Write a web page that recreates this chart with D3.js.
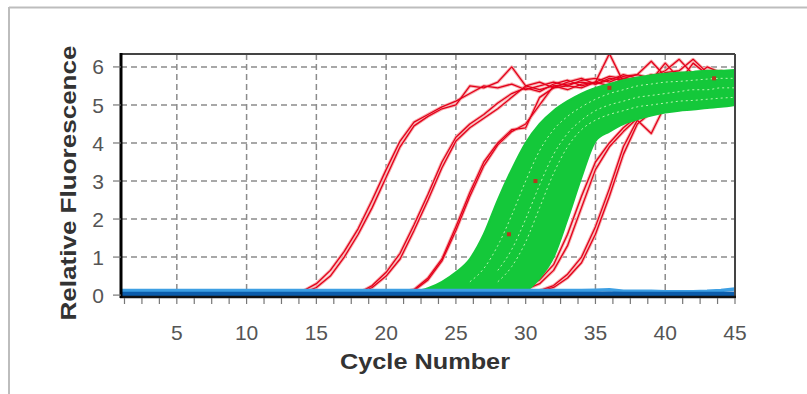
<!DOCTYPE html>
<html><head><meta charset="utf-8">
<script src="https://cdn.jsdelivr.net/npm/d3@7"></script>
<style>html,body{margin:0;padding:0;background:#fff;}svg{display:block}</style>
</head><body><svg id="c" width="807" height="394"></svg>
<script>
// ---- data ----
const cycles = [1,2,3,4,5,6,7,8,9,10,11,12,13,14,15,16,17,18,19,20,21,22,23,24,25,26,27,28,29,30,31,32,33,34,35,36,37,38,39,40,41,42,43,44,45];
const xTickLabels = [5,10,15,20,25,30,35,40,45];
const yTickLabels = [0,1,2,3,4,5,6];

const redA1 = [0,0,0,0,0,0,0,0,0,0,0,0,0,0.05,0.2,0.5,1.0,1.6,2.3,3.1,3.9,4.45,4.7,4.9,5.0,5.5,5.45,5.6,6.0,5.5,5.4,5.5,5.55,5.6,5.55,5.7,5.65,5.7,5.75,5.8,5.75,5.8,5.8,5.85,5.8];
const redA2 = [0,0,0,0,0,0,0,0,0,0,0,0,0.02,0.1,0.3,0.65,1.15,1.75,2.5,3.3,4.05,4.55,4.75,4.95,5.1,5.3,5.5,5.45,5.55,5.4,5.5,5.6,5.5,5.65,5.7,5.6,5.75,5.8,5.7,5.85,5.9,6.2,5.85,5.8,5.85];
const redB1 = [0,0,0,0,0,0,0,0,0,0,0,0,0,0,0,0,0,0.05,0.25,0.6,1.1,1.85,2.65,3.5,4.15,4.5,4.75,5.05,5.3,5.45,5.35,5.55,5.65,5.5,5.6,5.75,5.7,5.8,6.15,5.75,5.8,5.85,5.8,5.85,5.8];
const redB2 = [0,0,0,0,0,0,0,0,0,0,0,0,0,0,0,0,0,0.03,0.2,0.5,0.95,1.7,2.5,3.35,4.05,4.4,4.65,4.9,5.2,5.5,5.6,5.45,5.6,5.7,5.55,5.65,5.8,5.7,5.75,5.9,6.2,5.8,5.75,5.8,5.8];
const redC1 = [0,0,0,0,0,0,0,0,0,0,0,0,0,0,0,0,0,0,0,0,0.05,0.15,0.45,0.95,1.8,2.7,3.5,4.0,4.35,4.4,5.2,5.45,5.5,5.45,5.6,6.35,5.6,5.7,5.65,6.1,5.7,5.8,5.75,5.8,5.8];
const redC2 = [0,0,0,0,0,0,0,0,0,0,0,0,0,0,0,0,0,0,0,0,0.03,0.12,0.4,0.9,1.7,2.6,3.4,3.95,4.3,4.5,5.0,5.5,5.4,5.55,5.6,5.5,5.7,5.65,5.8,5.7,5.85,5.8,5.9,5.8,5.85];
const redD1 = [0,0,0,0,0,0,0,0,0,0,0,0,0,0,0,0,0,0,0,0,0,0,0,0,0,0,0,0.03,0.08,0.2,0.4,0.8,1.6,2.6,3.5,4.0,4.4,4.7,5.0,5.3,5.5,5.6,5.7,5.75,5.8];
const redD2 = [0,0,0,0,0,0,0,0,0,0,0,0,0,0,0,0,0,0,0,0,0,0,0,0,0,0,0,0.02,0.06,0.15,0.3,0.65,1.3,2.3,3.3,3.9,4.3,4.65,4.95,5.25,5.45,5.6,5.65,5.7,5.75];
const redE1 = [0,0,0,0,0,0,0,0,0,0,0,0,0,0,0,0,0,0,0,0,0,0,0,0,0,0,0,0,0.02,0.05,0.12,0.25,0.55,1.0,1.8,2.8,3.9,4.6,4.25,5.0,5.6,6.1,5.8,5.9,5.8];
const redE2 = [0,0,0,0,0,0,0,0,0,0,0,0,0,0,0,0,0,0,0,0,0,0,0,0,0,0,0,0,0,0.03,0.1,0.2,0.45,0.85,1.6,2.6,3.7,4.5,4.8,5.3,5.5,5.7,6.0,5.85,5.8];

// green sample cloud: earliest (upper) and latest (lower) envelope
const greenUpper = [0,0,0,0,0,0,0,0,0,0,0,0,0,0,0,0,0,0,0,0,0.02,0.08,0.18,0.35,0.6,0.95,1.6,2.5,3.3,4.0,4.5,4.85,5.1,5.3,5.45,5.55,5.65,5.72,5.78,5.82,5.85,5.87,5.9,5.9,5.92];
const greenLower = [0,0,0,0,0,0,0,0,0,0,0,0,0,0,0,0,0,0,0,0,0,0,0,0,0,0,0,0.02,0.05,0.12,0.45,1.0,2.0,3.1,4.05,4.3,4.5,4.62,4.72,4.8,4.85,4.88,4.92,4.95,5.0];
const greenL1 = [0,0,0,0,0,0,0,0,0,0,0,0,0,0,0,0,0,0,0,0,0,0,0,0.05,0.15,0.35,0.7,1.3,2.1,3.0,3.8,4.35,4.7,4.95,5.15,5.3,5.4,5.5,5.55,5.6,5.62,5.65,5.68,5.7,5.7];
const greenL2 = [0,0,0,0,0,0,0,0,0,0,0,0,0,0,0,0,0,0,0,0,0,0,0,0,0.05,0.12,0.3,0.65,1.2,2.0,2.9,3.7,4.25,4.6,4.85,5.0,5.1,5.2,5.25,5.3,5.35,5.4,5.4,5.45,5.45];
const greenL3 = [0,0,0,0,0,0,0,0,0,0,0,0,0,0,0,0,0,0,0,0,0,0,0,0,0,0.05,0.15,0.35,0.75,1.4,2.3,3.2,3.9,4.35,4.6,4.75,4.85,4.95,5.0,5.05,5.1,5.12,5.15,5.18,5.2];

// flat negative samples (blue)
const blueLow  = [0.02,0.02,0.02,0.02,0.02,0.02,0.02,0.02,0.02,0.02,0.02,0.02,0.02,0.02,0.02,0.02,0.02,0.02,0.02,0.02,0.02,0.02,0.02,0.02,0.02,0.02,0.02,0.02,0.02,0.02,0.02,0.02,0.02,0.02,0.02,0.03,0.02,0.02,0.02,0.02,0.02,0.02,0.02,0.02,0.03];
const blueHigh = [0.12,0.12,0.12,0.12,0.12,0.12,0.12,0.12,0.12,0.12,0.12,0.12,0.12,0.12,0.12,0.12,0.12,0.12,0.12,0.12,0.12,0.12,0.12,0.12,0.12,0.12,0.12,0.12,0.12,0.12,0.12,0.12,0.12,0.12,0.13,0.14,0.1,0.1,0.1,0.09,0.09,0.09,0.1,0.12,0.16];

// dark red sample points visible inside the green cloud
const dotCycles = [28.8,30.7,36.0,43.5];
const dotValues = [1.6,3.0,5.45,5.7];

// ---- drawing ----
const svg = d3.select('#c');
const x = d3.scaleLinear().domain([1,45]).range([121,735]);
const y = d3.scaleLinear().domain([-0.05,6.34]).range([297,54]);

// outer page frame
svg.append('line').attr('x1',9).attr('x2',807).attr('y1',7.5).attr('y2',7.5).attr('stroke','#bdbdbd').attr('stroke-width',2);
svg.append('line').attr('x1',9).attr('x2',9).attr('y1',7).attr('y2',394).attr('stroke','#bdbdbd').attr('stroke-width',2);

svg.append('defs').append('clipPath').attr('id','pc').append('rect')
  .attr('x',x(1)).attr('y',y(6.34)).attr('width',x(45)-x(1)).attr('height',y(-0.05)-y(6.34));

// grid
const grid = svg.append('g').attr('stroke','#8c8c8c').attr('stroke-width',1.5).attr('stroke-dasharray','6,4');
grid.selectAll('line.h').data(yTickLabels.filter(v=>v>0)).join('line')
  .attr('x1',x(1)).attr('x2',x(45)).attr('y1',d=>y(d)).attr('y2',d=>y(d));
grid.selectAll('line.v').data(xTickLabels.filter(v=>v<45)).join('line').attr('class','v')
  .attr('x1',d=>x(d)).attr('x2',d=>x(d)).attr('y1',y(6.34)).attr('y2',y(-0.05));

const plot = svg.append('g').attr('clip-path','url(#pc)');
const line = d3.line().x((d,i)=>x(cycles[i])).y(d=>y(d));

// red curves
const reds = [redA1,redA2,redB1,redB2,redC1,redC2,redD1,redD2,redE1,redE2];
const redLine = d3.line().defined(d=>d>0.015).x((d,i)=>x(cycles[i])).y(d=>y(d));
plot.selectAll('path.rh').data(reds).join('path').attr('class','rh')
  .attr('d',redLine).attr('fill','none').attr('stroke','#f7b0b0').attr('stroke-width',3.2).attr('stroke-linejoin','round');
plot.selectAll('path.r').data(reds).join('path').attr('class','r')
  .attr('d',redLine).attr('fill','none').attr('stroke','#e3001b').attr('stroke-width',1.3).attr('stroke-linejoin','round');

// green cloud
const area = d3.area().curve(d3.curveMonotoneX)
  .x((d,i)=>x(cycles[i])).y0((d,i)=>y(greenLower[i])).y1(d=>y(d));
plot.append('path').datum(greenUpper).attr('d',area).attr('fill','#14c83a').attr('stroke','#14c83a').attr('stroke-width',2);

const gLine = d3.line().curve(d3.curveMonotoneX).defined(d=>d>0.3).x((d,i)=>x(cycles[i])).y(d=>y(d));
plot.selectAll('path.gl').data([greenL1,greenL2,greenL3]).join('path').attr('class','gl')
  .attr('d',gLine).attr('fill','none').attr('stroke','#b6f5ae').attr('stroke-width',1).attr('stroke-dasharray','2,3');

plot.selectAll('rect.dot').data(dotCycles).join('rect').attr('class','dot')
  .attr('x',(d)=>x(d)-2).attr('y',(d,i)=>y(dotValues[i])-2).attr('width',4).attr('height',4).attr('fill','#b33a1e');

// blue baseline (drawn on top, as in the instrument view)
plot.append('path').datum(blueHigh).attr('d',line).attr('fill','none').attr('stroke','#3d9fe3').attr('stroke-width',3.5);
plot.append('path').datum(blueLow).attr('d',line).attr('fill','none').attr('stroke','#0b5cab').attr('stroke-width',5);

// frame
svg.append('line').attr('x1',x(1)).attr('x2',x(45)).attr('y1',54).attr('y2',54).attr('stroke','#444').attr('stroke-width',2);
svg.append('line').attr('x1',x(45)).attr('x2',x(45)).attr('y1',54).attr('y2',297).attr('stroke','#444').attr('stroke-width',2);
svg.append('line').attr('x1',x(1)-1).attr('x2',x(45)+1).attr('y1',297).attr('y2',297).attr('stroke','#111').attr('stroke-width',2.5);
svg.append('line').attr('x1',x(1)).attr('x2',x(1)).attr('y1',53).attr('y2',298).attr('stroke','#000').attr('stroke-width',3);

// y ticks + labels
const yAx = svg.append('g');
yAx.selectAll('line').data(yTickLabels).join('line')
  .attr('x1',x(1)-8).attr('x2',x(1)).attr('y1',d=>y(d)).attr('y2',d=>y(d)).attr('stroke','#777').attr('stroke-width',1.2);
yAx.selectAll('text').data(yTickLabels).join('text')
  .attr('x',104).attr('y',d=>y(d)).attr('dy','0.36em').attr('text-anchor','end')
  .attr('font-family','Liberation Sans, Arial, sans-serif').attr('font-size',21).attr('fill','#555').text(d=>d);

// x ticks (4 per labelled interval) + labels
const minor = d3.range(1.25, 45.01, 1.25);
svg.append('g').selectAll('line').data(minor).join('line')
  .attr('x1',d=>x(d)).attr('x2',d=>x(d)).attr('y1',298).attr('y2',304).attr('stroke','#777').attr('stroke-width',1.2);
svg.append('g').selectAll('text').data(xTickLabels).join('text')
  .attr('x',d=>x(d)).attr('y',340).attr('text-anchor','middle')
  .attr('font-family','Liberation Sans, Arial, sans-serif').attr('font-size',21).attr('fill','#555').text(d=>d);

// axis titles
svg.append('text').attr('x',425).attr('y',369).attr('text-anchor','middle')
  .attr('font-family','Liberation Sans, Arial, sans-serif').attr('font-weight','bold').attr('font-size',22)
  .attr('fill','#333').attr('textLength',170).attr('lengthAdjust','spacingAndGlyphs').text('Cycle Number');
svg.append('text').attr('transform','translate(76,183) rotate(-90)').attr('text-anchor','middle')
  .attr('font-family','Liberation Sans, Arial, sans-serif').attr('font-weight','bold').attr('font-size',22)
  .attr('fill','#333').attr('textLength',275).attr('lengthAdjust','spacingAndGlyphs').text('Relative Fluorescence');
</script></body></html>
